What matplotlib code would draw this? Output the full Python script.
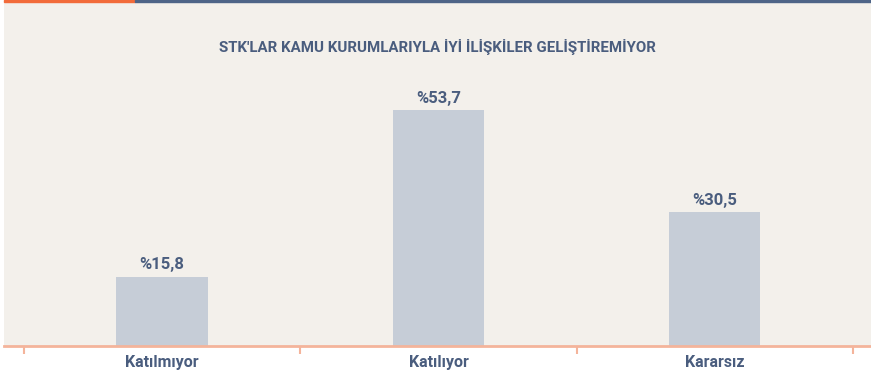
import matplotlib.pyplot as plt
from matplotlib.patches import Rectangle

categories = ["Katılmıyor", "Katılıyor", "Kararsız"]
values = [15.8, 53.7, 30.5]
value_labels = ["%15,8", "%53,7", "%30,5"]
title = "STK'LAR KAMU KURUMLARIYLA İYİ İLİŞKİLER GELİŞTİREMİYOR"

panel_bg = "#f3f0eb"
bar_color = "#c6cdd7"
text_color = "#4a5d7e"
axis_color = "#f4b49b"

plt.rcParams['font.family'] = ['Roboto', 'DejaVu Sans']

fig = plt.figure(figsize=(8.71, 3.78), dpi=100)
fig.patch.set_facecolor("white")
ax = fig.add_axes([4 / 871, 32 / 378, 867 / 871, 344 / 378])
ax.set_facecolor(panel_bg)

x = range(len(categories))
ax.bar(x, values, width=0.33, color=bar_color, zorder=2)

for xi, v, lab in zip(x, values, value_labels):
    ax.annotate(lab, (xi, v), xytext=(0, 3), textcoords="offset points",
                ha="center", va="bottom", fontsize=12, fontweight="bold",
                color=text_color)

ax.set_xlim(-0.572, 2.565)
ax.set_ylim(0, 78.3)

for s in ["top", "left", "right"]:
    ax.spines[s].set_visible(False)
ax.spines["bottom"].set_color(axis_color)
ax.spines["bottom"].set_linewidth(2)

ax.set_yticks([])
ax.set_xticks([-0.5, 0.5, 1.5, 2.5])
ax.set_xticklabels([])
ax.tick_params(axis="x", direction="out", length=6, width=1.5, color=axis_color)

for xi, c in zip(x, categories):
    ax.text(xi, -0.047, c, transform=ax.get_xaxis_transform(), ha="center",
            va="center", fontsize=11.5, fontweight="bold", color=text_color)

ax.text(0.5, 1 - 45 / 344, title, transform=ax.transAxes, ha="center",
        va="center", fontsize=10.8, fontweight="bold", color=text_color)

# thin two-colour strip along the top edge
fig.patches.append(Rectangle((4 / 871, 376 / 378), 131 / 871, 2 / 378,
                             transform=fig.transFigure, color="#f26b3a"))
fig.patches.append(Rectangle((135 / 871, 376 / 378), 736 / 871, 2 / 378,
                             transform=fig.transFigure, color="#4e6487"))

fig.savefig("out.png", dpi=100, facecolor=fig.get_facecolor())
